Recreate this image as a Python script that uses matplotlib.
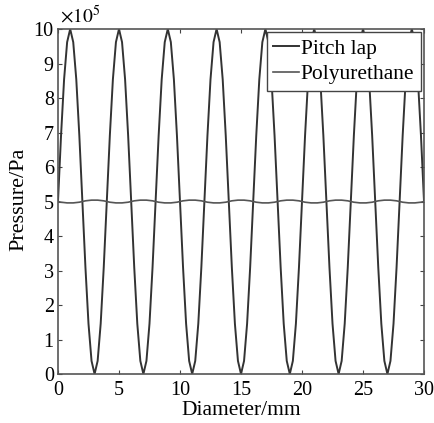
import matplotlib
matplotlib.use("Agg")
import matplotlib.pyplot as plt
import numpy as np

plt.rcParams['font.family'] = ['Liberation Serif', 'DejaVu Serif']
plt.rcParams['mathtext.fontset'] = 'stix'

# Diameter (mm), sampled every 0.25 mm
diameter = np.arange(0, 30.0001, 0.25)

# Pressure (x10^5 Pa)
pitch_lap = [
    5.00, 6.91, 8.54, 9.62, 10.00, 9.62, 8.54, 6.91, 5.00, 3.09, 1.46, 0.38, 0.00, 0.38, 1.46, 3.09,
    5.00, 6.91, 8.54, 9.62, 10.00, 9.62, 8.54, 6.91, 5.00, 3.09, 1.46, 0.38, 0.00, 0.38, 1.46, 3.09,
    5.00, 6.91, 8.54, 9.62, 10.00, 9.62, 8.54, 6.91, 5.00, 3.09, 1.46, 0.38, 0.00, 0.38, 1.46, 3.09,
    5.00, 6.91, 8.54, 9.62, 10.00, 9.62, 8.54, 6.91, 5.00, 3.09, 1.46, 0.38, 0.00, 0.38, 1.46, 3.09,
    5.00, 6.91, 8.54, 9.62, 10.00, 9.62, 8.54, 6.91, 5.00, 3.09, 1.46, 0.38, 0.00, 0.38, 1.46, 3.09,
    5.00, 6.91, 8.54, 9.62, 10.00, 9.62, 8.54, 6.91, 5.00, 3.09, 1.46, 0.38, 0.00, 0.38, 1.46, 3.09,
    5.00, 6.91, 8.54, 9.62, 10.00, 9.62, 8.54, 6.91, 5.00, 3.09, 1.46, 0.38, 0.00, 0.38, 1.46, 3.09,
    5.00, 6.91, 8.54, 9.62, 10.00, 9.62, 8.54, 6.91, 5.00,
]

polyurethane = [
    5.00, 4.98, 4.97, 4.96, 4.96, 4.96, 4.97, 4.98, 5.00, 5.02, 5.03, 5.04, 5.04, 5.04, 5.03, 5.02,
    5.00, 4.98, 4.97, 4.96, 4.96, 4.96, 4.97, 4.98, 5.00, 5.02, 5.03, 5.04, 5.04, 5.04, 5.03, 5.02,
    5.00, 4.98, 4.97, 4.96, 4.96, 4.96, 4.97, 4.98, 5.00, 5.02, 5.03, 5.04, 5.04, 5.04, 5.03, 5.02,
    5.00, 4.98, 4.97, 4.96, 4.96, 4.96, 4.97, 4.98, 5.00, 5.02, 5.03, 5.04, 5.04, 5.04, 5.03, 5.02,
    5.00, 4.98, 4.97, 4.96, 4.96, 4.96, 4.97, 4.98, 5.00, 5.02, 5.03, 5.04, 5.04, 5.04, 5.03, 5.02,
    5.00, 4.98, 4.97, 4.96, 4.96, 4.96, 4.97, 4.98, 5.00, 5.02, 5.03, 5.04, 5.04, 5.04, 5.03, 5.02,
    5.00, 4.98, 4.97, 4.96, 4.96, 4.96, 4.97, 4.98, 5.00, 5.02, 5.03, 5.04, 5.04, 5.04, 5.03, 5.02,
    5.00, 4.98, 4.97, 4.96, 4.96, 4.96, 4.97, 4.98, 5.00,
]

x_ticks = [0, 5, 10, 15, 20, 25, 30]
y_ticks = [0, 1, 2, 3, 4, 5, 6, 7, 8, 9, 10]

fig = plt.figure(figsize=(4.34, 4.23), dpi=100)
ax = fig.add_axes([0.1336, 0.1158, 0.977 - 0.1336, 0.9314 - 0.1158])

ax.plot(diameter, pitch_lap, color='#333333', lw=1.4, label='Pitch lap')
ax.plot(diameter, polyurethane, color='#555555', lw=1.2, label='Polyurethane')

ax.set_xlim(0, 30)
ax.set_ylim(0, 10)
ax.set_xticks(x_ticks)
ax.set_yticks(y_ticks)
ax.tick_params(direction='in', top=True, right=True, labelsize=14.5, length=3,
               color='#444444')
ax.tick_params(axis='x', pad=5)
ax.tick_params(axis='y', pad=3)
for s in ax.spines.values():
    s.set_color('#555555')
    s.set_linewidth(1.2)

ax.set_xlabel('Diameter/mm', fontsize=15.5, labelpad=1)
ax.set_ylabel('Pressure/Pa', fontsize=16)
ax.yaxis.set_label_coords(-0.08, 0.505)
ax.text(0.005, 1.005, r'$\times10^5$', transform=ax.transAxes, fontsize=14,
        ha='left', va='bottom')

leg = ax.legend(loc='upper right', fontsize=15.5, frameon=True, fancybox=False,
                edgecolor='#444444', handlelength=1.2, handletextpad=0.08,
                borderpad=0.3, labelspacing=0.25, borderaxespad=0.15)
leg.get_frame().set_linewidth(1.0)
leg.get_frame().set_alpha(1)

fig.savefig('out.png', dpi=100)
